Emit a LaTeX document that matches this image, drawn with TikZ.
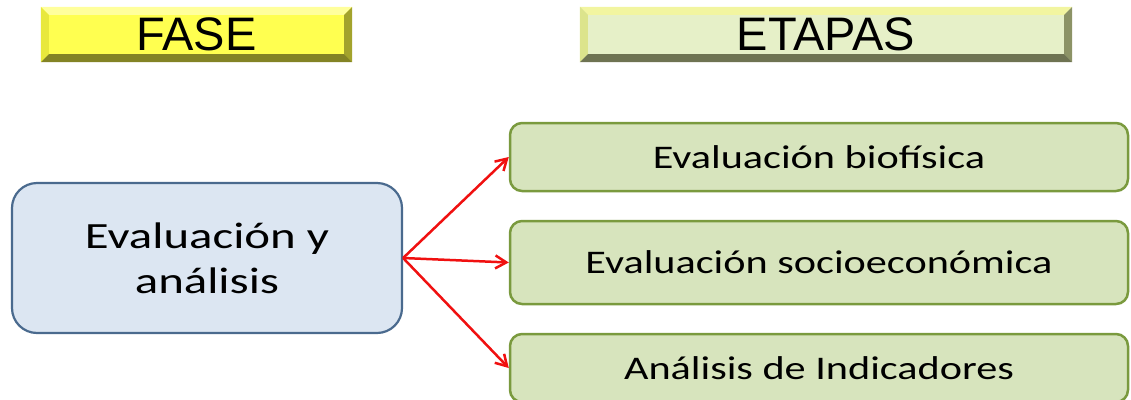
\documentclass[tikz,border=0pt]{standalone}
\usepackage{fontspec}
\setmainfont{Carlito}
\newfontfamily\arialf{Liberation Sans}
\usetikzlibrary{arrows.meta,calc}
\definecolor{faseY}{HTML}{FFFF50}
\definecolor{faseT}{HTML}{FFFF9C}
\definecolor{faseL}{HTML}{E8E83C}
\definecolor{faseR}{HTML}{A3A32C}
\definecolor{faseB}{HTML}{838325}
\definecolor{etaF}{HTML}{E6F0C8}
\definecolor{etaT}{HTML}{F2F5A0}
\definecolor{etaL}{HTML}{DCE48C}
\definecolor{etaR}{HTML}{8C9366}
\definecolor{etaB}{HTML}{6E7352}
\definecolor{mainF}{HTML}{DCE6F2}
\definecolor{mainD}{HTML}{4A6A8E}
\definecolor{grF}{HTML}{D7E4BD}
\definecolor{grD}{HTML}{7A9A3E}
\definecolor{arr}{HTML}{F01010}
\tikzset{
  header/.style={inner sep=0pt, font=\arialf\fontsize{47}{50}\selectfont},
  mainbox/.style={draw=mainD, fill=mainF, line width=2.2pt, rounded corners=25pt,
    minimum width=390pt, minimum height=150pt, inner sep=0pt, align=center,
    font=\fontsize{37}{45}\selectfont},
  stagebox/.style={draw=grD, fill=grF, line width=2.5pt, rounded corners=12pt,
    minimum width=618pt, inner sep=0pt, font=\fontsize{33}{40}\selectfont},
  link/.style={draw=arr, line width=2.5pt, -{Straight Barb[length=11pt,width=13pt,line width=2.5pt]}}
}
\newcommand\wtext[2]{\scalebox{#1}[1]{#2}}
\begin{document}
\begin{tikzpicture}[x=1pt,y=-1pt]
\useasboundingbox (0,0) rectangle (1131,399);
\clip (0,0) rectangle (1131,399);
% headers
\node[header, fill=faseY, minimum width=311pt, minimum height=55pt] (fase) at (196.5,34.5) {};
\node[header, fill=etaF, minimum width=492pt, minimum height=55pt] (etapas) at (826,34.5) {};
\foreach \n/\T/\L/\R/\B in {fase/faseT/faseL/faseR/faseB, etapas/etaT/etaL/etaR/etaB}{
  \fill[\T] (\n.north west) -- (\n.north east) -- ($(\n.north east)+(-8,8)$) -- ($(\n.north west)+(8,8)$) -- cycle;
  \fill[\L] (\n.north west) -- ($(\n.north west)+(8,8)$) -- ($(\n.south west)+(8,-8)$) -- (\n.south west) -- cycle;
  \fill[\R] (\n.north east) -- (\n.south east) -- ($(\n.south east)+(-8,-8)$) -- ($(\n.north east)+(-8,8)$) -- cycle;
  \fill[\B] (\n.south west) -- (\n.south east) -- ($(\n.south east)+(-8,-8)$) -- ($(\n.south west)+(8,-8)$) -- cycle;
}
\node[header] at (fase.center) {FASE};
\node[header] at (etapas.center) {ETAPAS};
% main box
\node[mainbox] (main) at (207,258) {\wtext{1.32}{Evaluación y}\\\wtext{1.32}{análisis}};
% stage boxes
\node[stagebox, minimum height=68pt] (b1) at (819,157) {\wtext{1.28}{Evaluación biofísica}};
\node[stagebox, minimum height=83pt] (b2) at (819,262.5) {\wtext{1.28}{Evaluación socioeconómica}};
\node[stagebox, minimum height=68pt] (b3) at (819,368) {\wtext{1.28}{Análisis de Indicadores}};
% connectors
\draw[link] (main.east) -- (b1.west);
\draw[link] (main.east) -- (b2.west);
\draw[link] (main.east) -- (b3.west);
\end{tikzpicture}
\end{document}
